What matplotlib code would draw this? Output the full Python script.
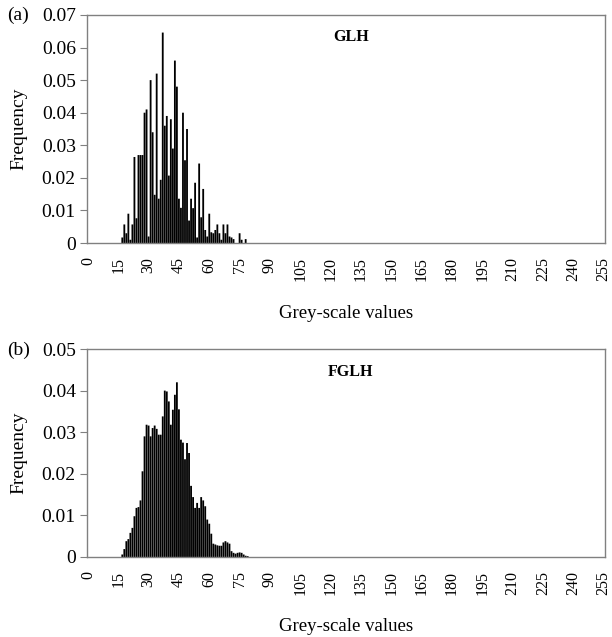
import matplotlib.pyplot as plt
import numpy as np
from matplotlib.ticker import FuncFormatter

plt.rcParams['font.family'] = ['Liberation Serif', 'DejaVu Serif']

# grey-level histograms, first non-zero grey value is 17
start_grey = 17
glh_freq = [0.0017, 0.0057, 0.003, 0.009, 0.001, 0.0057, 0.0264, 0.0076,
            0.027, 0.027, 0.027, 0.040, 0.041, 0.002, 0.050, 0.034,
            0.0148, 0.052, 0.0136, 0.0194, 0.0646, 0.036, 0.039, 0.0207,
            0.038, 0.029, 0.056, 0.048, 0.0136, 0.0108, 0.040, 0.0254,
            0.035, 0.0069, 0.0136, 0.0107, 0.0185, 0.0017, 0.0244, 0.0079,
            0.0166, 0.004, 0.002, 0.009, 0.0033, 0.003, 0.004, 0.0057,
            0.003, 0.001, 0.0057, 0.003, 0.0057, 0.002, 0.0017, 0.0012,
            0.0, 0.0, 0.003, 0.001, 0.0, 0.0012]
fglh_freq = [0.0006, 0.0019, 0.0038, 0.0043, 0.0058, 0.0070, 0.0098, 0.0118,
             0.0120, 0.0136, 0.0206, 0.0290, 0.0318, 0.0316, 0.0290, 0.0310,
             0.0316, 0.0308, 0.0294, 0.0294, 0.0338, 0.0400, 0.0398, 0.0374,
             0.0318, 0.0354, 0.0390, 0.0420, 0.0355, 0.0282, 0.0275, 0.0235,
             0.0274, 0.0250, 0.0171, 0.0144, 0.0118, 0.0130, 0.0118, 0.0144,
             0.0136, 0.0122, 0.0090, 0.0080, 0.0056, 0.0032, 0.0030, 0.0028,
             0.0027, 0.0027, 0.0035, 0.0038, 0.0035, 0.0032, 0.0014, 0.0010,
             0.0008, 0.0010, 0.0011, 0.0010, 0.0006, 0.0003, 0.0002]
tick_values = list(range(0, 256, 15))


def fmt_freq(v, pos):
    return '0' if abs(v) < 1e-9 else '%.2f' % v


def drawPanel(ax, freq, ymax, ystep, title, title_y):
    x = np.arange(start_grey, start_grey + len(freq))
    ax.bar(x, freq, 0.9, color='black', linewidth=0, snap=False)
    ax.set_xlim(-0.5, 255.5)
    ax.set_ylim(0, ymax)
    ax.set_yticks(np.arange(0, ymax + ystep / 2, ystep))
    ax.yaxis.set_major_formatter(FuncFormatter(fmt_freq))
    ax.set_xticks(tick_values)
    ax.set_xticklabels([str(t) for t in tick_values], rotation=90)
    ax.tick_params(axis='x', length=0, pad=10, labelsize=11.5)
    ax.tick_params(axis='y', length=5, color='#808080', labelsize=14, pad=3)
    for s in ax.spines.values():
        s.set_color('#808080')
        s.set_linewidth(1.0)
    ax.set_ylabel('Frequency', fontsize=14, labelpad=10)
    ax.set_xlabel('Grey-scale values', fontsize=13.5, labelpad=17)
    ax.text(0.51, title_y, title, transform=ax.transAxes, ha='center', va='center',
            fontsize=11.5, fontweight='bold')


fig = plt.figure(figsize=(6.12, 6.37), dpi=100)
ax1 = fig.add_axes([0.142, 0.6185, 0.846, 0.358])
ax2 = fig.add_axes([0.142, 0.1256, 0.846, 0.3265])

drawPanel(ax1, glh_freq, 0.07, 0.01, 'GLH', 0.905)
drawPanel(ax2, fglh_freq, 0.05, 0.01, 'FGLH', 0.89)

fig.text(0.011, 1 - 15 / 637, '(a)', fontsize=14, va='center')
fig.text(0.011, 1 - 350 / 637, '(b)', fontsize=14, va='center')

plt.savefig('out.png', dpi=100)
